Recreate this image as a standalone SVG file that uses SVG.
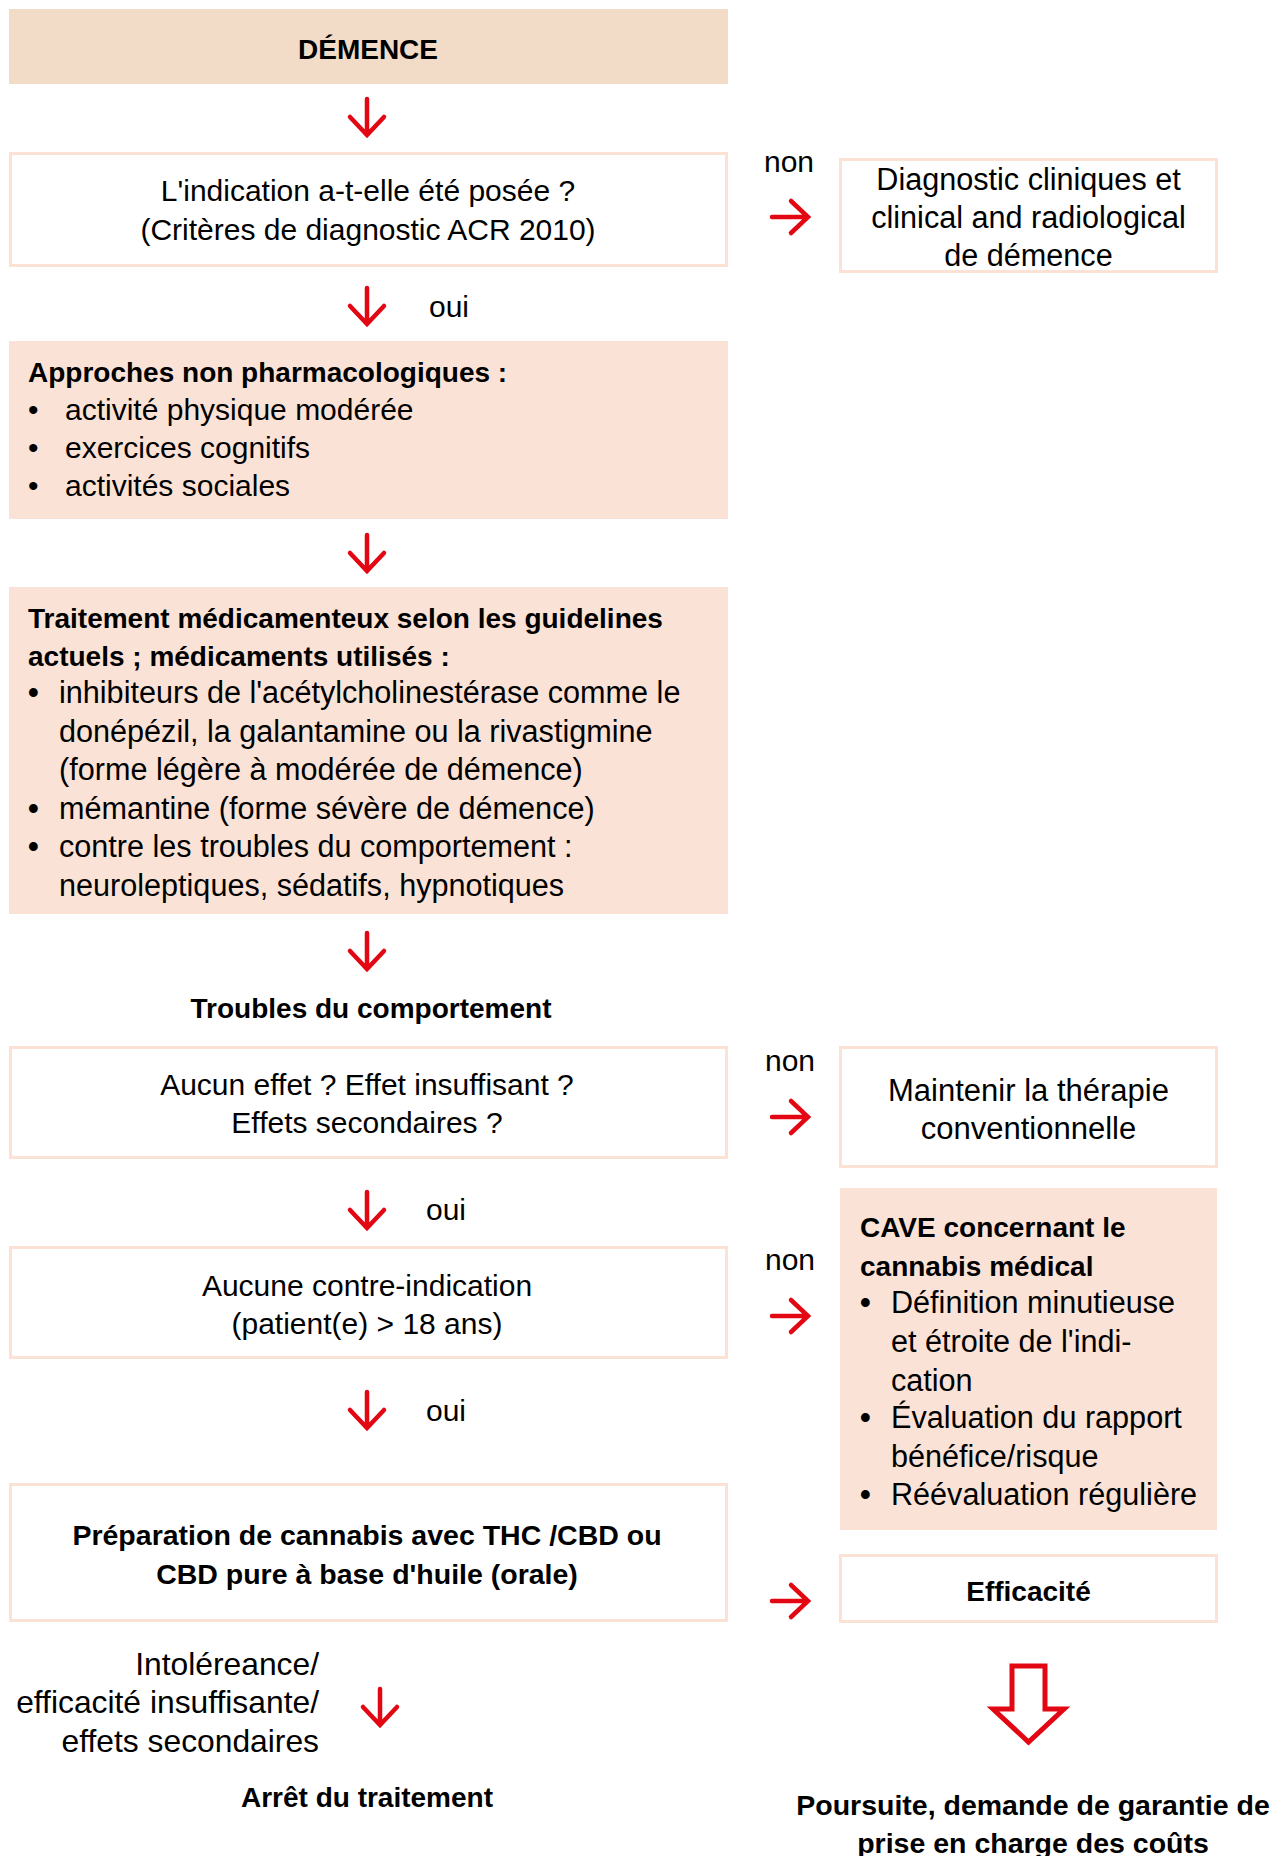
<svg xmlns="http://www.w3.org/2000/svg" width="1287" height="1856" viewBox="0 0 1287 1856">
<style>
text{font-family:"Liberation Sans",Arial,sans-serif;fill:#000}
.r{font-size:30px}
.rr{font-size:30.6px}
.b{font-size:28px;font-weight:bold}
.c{text-anchor:middle}
.e{text-anchor:end}
.box{fill:#fff;stroke:#fbe2d4;stroke-width:3}
.fill{fill:#fae3d6}
.arr{fill:none;stroke:#e30613;stroke-width:4.5;stroke-linecap:round;stroke-linejoin:miter}
</style>
<defs>
<path id="darr" d="M0,0 V36 M-17,18 L0,36 L17,18"/>
<path id="rarr" d="M0,0 H36 M19,-16 L36,0 L19,16"/>
</defs>
<rect width="1287" height="1856" fill="#fff"/>

<g id="demence">
<rect x="9" y="9" width="719" height="75" fill="#f2dcc8"/>
<text class="b c" x="368" y="59" style="font-size:28px">DÉMENCE</text>
</g>

<g id="q-indication">
<rect class="box" x="10.5" y="153.5" width="716" height="112"/>
<text class="r c" x="368" y="201">L'indication a-t-elle été posée ?</text>
<text class="r c" x="368" y="240">(Critères de diagnostic ACR 2010)</text>
</g>

<g id="diagnostic">
<rect class="box" x="840.5" y="159.5" width="376" height="112"/>
<text class="rr c" x="1028.5" y="190">Diagnostic cliniques et</text>
<text class="rr c" x="1028.5" y="228">clinical and radiological</text>
<text class="rr c" x="1028.5" y="266">de démence</text>
</g>

<g id="approches">
<rect class="fill" x="9" y="341" width="719" height="178"/>
<text class="b" x="28" y="382">Approches non pharmacologiques :</text>
<text class="r" x="28" y="420">•</text>
<text class="r" x="65" y="420">activité physique modérée</text>
<text class="r" x="28" y="458">•</text>
<text class="r" x="65" y="458">exercices cognitifs</text>
<text class="r" x="28" y="496">•</text>
<text class="r" x="65" y="496">activités sociales</text>
</g>

<g id="traitement">
<rect class="fill" x="9" y="587" width="719" height="327"/>
<text class="b" x="28" y="628">Traitement médicamenteux selon les guidelines</text>
<text class="b" x="28" y="666">actuels ; médicaments utilisés :</text>
<text class="rr" x="28" y="703" style="font-weight:bold">•</text>
<text class="rr" x="59" y="703">inhibiteurs de l'acétylcholinestérase comme le</text>
<text class="rr" x="59" y="742">donépézil, la galantamine ou la rivastigmine</text>
<text class="rr" x="59" y="780">(forme légère à modérée de démence)</text>
<text class="rr" x="28" y="819" style="font-weight:bold">•</text>
<text class="rr" x="59" y="819">mémantine (forme sévère de démence)</text>
<text class="rr" x="28" y="857" style="font-weight:bold">•</text>
<text class="rr" x="59" y="857">contre les troubles du comportement :</text>
<text class="rr" x="59" y="896">neuroleptiques, sédatifs, hypnotiques</text>
</g>

<g id="troubles">
<text class="b c" x="371" y="1018">Troubles du comportement</text>
</g>

<g id="q-effet">
<rect class="box" x="10.5" y="1047.5" width="716" height="110"/>
<text class="r c" x="367" y="1095">Aucun effet ? Effet insuffisant ?</text>
<text class="r c" x="367" y="1133">Effets secondaires ?</text>
</g>

<g id="maintenir">
<rect class="box" x="840.5" y="1047.5" width="376" height="119"/>
<text class="c" x="1028.5" y="1101" style="font-size:31px">Maintenir la thérapie</text>
<text class="c" x="1028.5" y="1139" style="font-size:31px">conventionnelle</text>
</g>

<g id="q-contre">
<rect class="box" x="10.5" y="1247.5" width="716" height="110"/>
<text class="r c" x="367" y="1296">Aucune contre-indication</text>
<text class="r c" x="367" y="1334">(patient(e) &gt; 18 ans)</text>
</g>

<g id="cave">
<rect class="fill" x="840" y="1188" width="377" height="342"/>
<text class="b" x="860" y="1237">CAVE concernant le</text>
<text class="b" x="860" y="1276">cannabis médical</text>
<text class="rr" x="860" y="1313" style="font-weight:bold">•</text>
<text class="rr" x="891" y="1313">Définition minutieuse</text>
<text class="rr" x="891" y="1352">et étroite de l'indi-</text>
<text class="rr" x="891" y="1391">cation</text>
<text class="rr" x="860" y="1428" style="font-weight:bold">•</text>
<text class="rr" x="891" y="1428">Évaluation du rapport</text>
<text class="rr" x="891" y="1467">bénéfice/risque</text>
<text class="rr" x="860" y="1505" style="font-weight:bold">•</text>
<text class="rr" x="891" y="1505">Réévaluation régulière</text>
</g>

<g id="preparation">
<rect class="box" x="10.5" y="1484.5" width="716" height="136"/>
<text class="b c" x="367" y="1545" style="font-size:28.5px">Préparation de cannabis avec THC /CBD ou</text>
<text class="b c" x="367" y="1584" style="font-size:28.5px">CBD pure à base d'huile (orale)</text>
</g>

<g id="efficacite">
<rect class="box" x="840.5" y="1555.5" width="376" height="66"/>
<text class="b c" x="1028.5" y="1601">Efficacité</text>
</g>

<g id="arret">
<text class="b c" x="367" y="1807">Arrêt du traitement</text>
</g>

<g id="poursuite">
<text class="b c" x="1033" y="1815" style="font-size:28.5px">Poursuite, demande de garantie de</text>
<text class="b c" x="1033" y="1853" style="font-size:28.5px">prise en charge des coûts</text>
</g>

<g id="connectors">
<use href="#darr" class="arr" x="367" y="99"/>
<use href="#darr" class="arr" x="367" y="288"/>
<use href="#darr" class="arr" x="367" y="535"/>
<use href="#darr" class="arr" x="367" y="933"/>
<use href="#darr" class="arr" x="367" y="1192"/>
<use href="#darr" class="arr" x="367" y="1392"/>
<use href="#darr" class="arr" x="380" y="1689"/>
<use href="#rarr" class="arr" x="772" y="217"/>
<use href="#rarr" class="arr" x="772" y="1117"/>
<use href="#rarr" class="arr" x="772" y="1316"/>
<use href="#rarr" class="arr" x="772" y="1601"/>
<path d="M1012,1666 H1045 V1709 H1064 L1028.5,1742 L993,1709 H1012 Z" fill="none" stroke="#e30613" stroke-width="5" stroke-linejoin="miter"/>
<text class="r c" x="789" y="172">non</text>
<text class="r c" x="790" y="1071">non</text>
<text class="r c" x="790" y="1270">non</text>
<text class="r" x="429" y="317">oui</text>
<text class="r" x="426" y="1220">oui</text>
<text class="r" x="426" y="1421">oui</text>
<text class="e" x="319" y="1675" style="font-size:31.8px">Intoléreance/</text>
<text class="e" x="319" y="1713" style="font-size:31.8px">efficacité insuffisante/</text>
<text class="e" x="319" y="1752" style="font-size:31.8px">effets secondaires</text>
</g>
</svg>
